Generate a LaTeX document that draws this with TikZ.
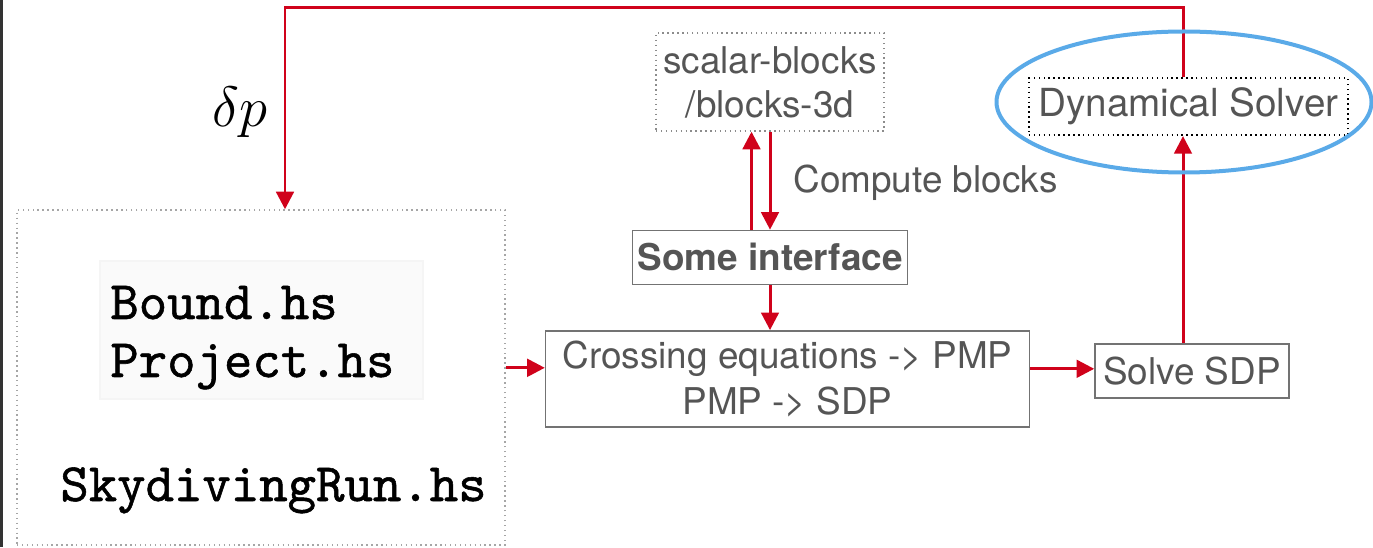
\documentclass[tikz,border=0pt]{standalone}
\usepackage{fontspec}
\setsansfont{TeX Gyre Heros}
\newfontfamily\codefont{lmmono10-regular.otf}[FakeBold=1.0]
\usetikzlibrary{arrows.meta,positioning,shapes.geometric}
\definecolor{flow}{HTML}{D0021B}
\definecolor{halo}{HTML}{5AAAE8}
\definecolor{label}{HTML}{555555}

\begin{document}
\begin{tikzpicture}[
  >=Latex,
  line/.style={draw=black!55, line width=0.8pt},
  arrow/.style={-{Triangle[length=10pt,width=10pt]}, draw=flow, line width=1.7pt},
  box/.style={line, minimum height=1.08cm, inner sep=0pt, text=label, align=center, font=\sffamily\fontsize{21}{26}\selectfont},
  dotbox/.style={box, draw=black!45, dotted},
  code/.style={font=\codefont\fontsize{30.8}{36}\selectfont, inner sep=0pt, anchor=base west}
]
\useasboundingbox (0,0) rectangle (27.46,10.94);
\draw[black!80, line width=0.06cm] (0.03,0) -- (0.03,10.94);

\node[dotbox, draw=black!35, minimum width=9.76cm, minimum height=6.7cm] (files) at (5.22,3.39) {};
\node[draw=black!4, fill=black!2, line width=1pt, minimum width=6.46cm, minimum height=2.76cm, inner sep=0pt] (codebg) at (5.23,4.34) {};
\node[code] (bound) at (2.2,4.56) {Bound.hs};
\node[code] (project) at (2.2,3.4) {Project.hs};
\node[code] (skydive) at (1.2,0.92) {SkydivingRun.hs};

\node[dotbox, minimum width=4.56cm, minimum height=1.96cm, font=\sffamily\fontsize{21}{25}\selectfont] (blocks) at (15.4,9.3) {scalar-blocks\\/blocks-3d};
\node[box, minimum width=5.5cm, below=1.96cm of blocks, font=\sffamily\bfseries\fontsize{21}{26}\selectfont] (iface) {Some interface};
\node[box, minimum width=9.68cm, minimum height=1.92cm, below=0.9cm of iface, xshift=0.35cm] (cross) {Crossing equations -> PMP\\PMP -> SDP};
\node[box, minimum width=3.88cm, right=1.28cm of cross, yshift=0.16cm] (solve) {Solve SDP};
\node[dotbox, draw=black, line width=1.1pt, minimum width=6.38cm, minimum height=1.14cm, above=4.14cm of solve, xshift=-0.07cm, font=\sffamily\fontsize{22}{26}\selectfont] (dyn) {Dynamical Solver};

\node[anchor=west, inner sep=0pt, text=label, font=\sffamily\fontsize{21}{26}\selectfont] (compute) at (15.86,7.28) {Compute blocks};
\node[inner sep=0pt, scale=1.3, font=\fontsize{24.88}{30}\selectfont] (dp) at (4.8,8.7) {$\delta p$};

\coordinate (loopx) at (23.66,10.78);
\coordinate (loopl) at (5.7,10.78);

\draw[arrow] (loopx |- solve.north) -- (loopx |- dyn.south);
\draw[arrow] (loopx |- dyn.north) -- (loopx) -- (loopl) -- (loopl |- files.north);
\draw[arrow] ([xshift=-0.37cm]iface.north) -- ([xshift=-0.37cm]iface.north |- blocks.south);
\draw[arrow] (blocks.south) -- (blocks.south |- iface.north);
\draw[arrow] (iface.south) -- (iface.south |- cross.north);
\draw[arrow] ([yshift=0.22cm]cross.west -| files.east) -- ([yshift=0.22cm]cross.west);
\draw[arrow] ([yshift=0.2cm]cross.east) -- ([yshift=0.2cm]cross.east -| solve.west);

\node[ellipse, draw=halo, line width=0.08cm, minimum width=7.5cm, minimum height=2.82cm] (ring) at (23.68,8.9) {};

\end{tikzpicture}
\end{document}
